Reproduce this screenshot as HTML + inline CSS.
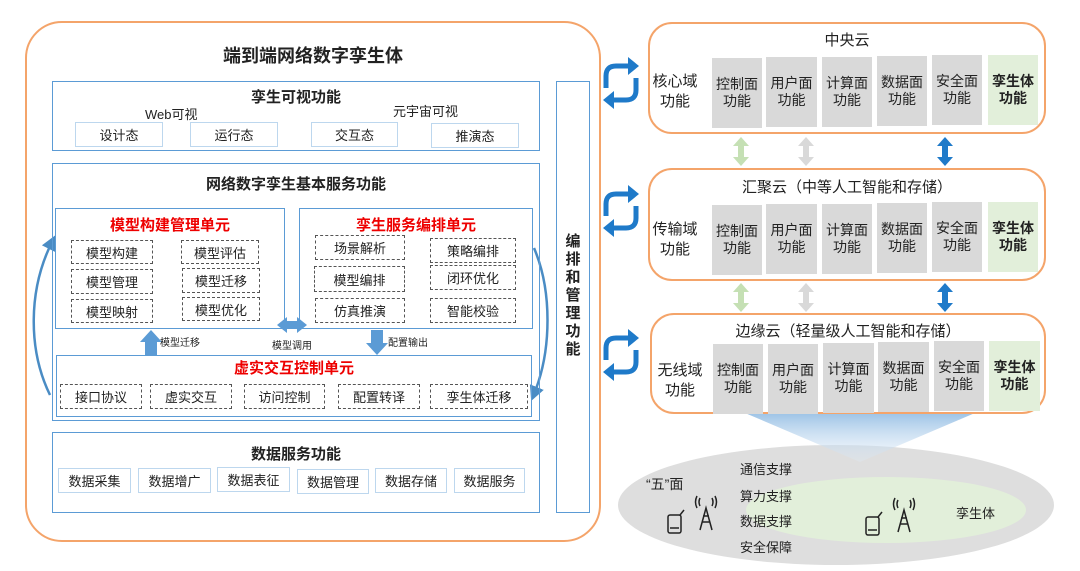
<!DOCTYPE html>
<html><head><meta charset="utf-8"><style>
*{margin:0;padding:0;box-sizing:border-box}
body{width:1080px;height:571px;background:#fff;position:relative;overflow:hidden;font-family:"Liberation Sans","Noto Sans CJK SC",sans-serif;color:#222}
.a{position:absolute}
.bx{position:absolute;border:1.5px solid #5b9bd5}
.lb{position:absolute;border:1.5px solid #bdd7ee;display:flex;align-items:center;justify-content:center;font-size:13px}
.ds{position:absolute;border:1.2px dashed #555;display:flex;align-items:center;justify-content:center;font-size:13px}
.t{position:absolute;text-align:center;white-space:nowrap}
.b{font-weight:bold}
.red{color:#e00;font-weight:bold}
.cl{position:absolute;border:2px solid #f4a46a;border-radius:24px;background:#fff}
.g{position:absolute;background:#d9d9d9;display:flex;align-items:center;justify-content:center;text-align:center;font-size:14px;line-height:17px}
.gg{background:#e2efda;font-weight:bold}
</style></head><body>
<svg class="a" style="left:0;top:0" width="1080" height="571">
<defs><linearGradient id="bl" x1="0" y1="0" x2="0" y2="1"><stop offset="0" stop-color="#9dc3e6"/><stop offset="1" stop-color="#deebf7" stop-opacity="0.3"/></linearGradient>
<marker id="ah" markerWidth="6" markerHeight="6" refX="3" refY="3" orient="auto"><path d="M0,0 L6,3 L0,6 z" fill="#4a8cc4"/></marker></defs>
<rect x="26" y="22" width="574" height="519" rx="36" fill="none" stroke="#f4a46a" stroke-width="2"/>
<ellipse cx="836" cy="505" rx="218" ry="60" fill="#dedede"/>
<ellipse cx="886" cy="510" rx="140" ry="33" fill="#e2efda"/>
<polygon points="745,413 975,413 860,462" fill="url(#bl)"/>
<path d="M50,395 C28,350 28,290 52,242" fill="none" stroke="#4a8cc4" stroke-width="2.5" marker-end="url(#ah)"/>
<path d="M534,248 C552,290 552,350 534,394" fill="none" stroke="#4a8cc4" stroke-width="2.5" marker-end="url(#ah)"/>
<polygon points="145,355 145,342 140,342 151,330 162,342 157,342 157,355" fill="#5b9bd5"/>
<polygon points="371,330 371,343 366,343 377,355 388,343 383,343 383,330" fill="#5b9bd5"/>
<polygon points="277,325 287,317 287,321 297,321 297,317 307,325 297,333 297,329 287,329 287,333" fill="#5b9bd5"/>
<g id="ar">
<polygon points="741,137 749,146 744,146 744,157 749,157 741,166 733,157 738,157 738,146 733,146" fill="#c5e0b4"/>
<polygon points="806,137 814,146 809,146 809,157 814,157 806,166 798,157 803,157 803,146 798,146" fill="#d9d9d9"/>
<polygon points="945,137 953,146 948,146 948,157 953,157 945,166 937,157 942,157 942,146 937,146" fill="#1f7ac9"/>
</g>
<use href="#ar" y="146"/>
<g id="cy" fill="none" stroke="#1f7ac9" stroke-width="5">
<path d="M606,88 L606,76 Q606,66 616,66 L630,66"/><polygon points="628,57 639,66 628,75" fill="#1f7ac9" stroke="none"/>
<path d="M636,78 L636,90 Q636,100 626,100 L612,100"/><polygon points="614,91 603,100 614,109" fill="#1f7ac9" stroke="none"/>
</g>
<use href="#cy" y="128"/><use href="#cy" y="272"/>
<g id="ic" stroke="#222" fill="none" stroke-width="1.5">
<rect x="668" y="515" width="13" height="18" rx="2"/><line x1="670" y1="528" x2="679" y2="528"/><path d="M680,515 L684,510"/>
<path d="M700,530 L706,508 L712,530 M702,522 L710,522 M703,516 L709,516"/>
<path d="M700,506 Q698,502 700,498 M712,506 Q714,502 712,498 M697,508 Q694,502 697,496 M715,508 Q718,502 715,496"/>
</g>
<use href="#ic" x="198" y="2"/>
</svg>

<div class="t b" style="left:26px;width:574px;top:42px;font-size:18px">端到端网络数字孪生体</div>

<div class="bx" style="left:52px;top:81px;width:488px;height:70px"></div>
<div class="t b" style="left:52px;width:488px;top:86px;font-size:15px">孪生可视功能</div>
<div class="t" style="left:145px;top:104px;font-size:13px">Web可视</div>
<div class="t" style="left:393px;top:101px;font-size:13px">元宇宙可视</div>
<div class="lb" style="left:75px;top:122px;width:88px;height:25px">设计态</div>
<div class="lb" style="left:190px;top:122px;width:88px;height:25px">运行态</div>
<div class="lb" style="left:311px;top:122px;width:87px;height:25px">交互态</div>
<div class="lb" style="left:431px;top:123px;width:88px;height:25px">推演态</div>

<div class="bx" style="left:52px;top:163px;width:488px;height:258px"></div>
<div class="t b" style="left:52px;width:488px;top:173px;font-size:15px">网络数字孪生基本服务功能</div>
<div class="bx" style="left:55px;top:208px;width:230px;height:121px"></div>
<div class="t red" style="left:55px;width:230px;top:214px;font-size:15px">模型构建管理单元</div>
<div class="ds" style="left:71px;top:240px;width:82px;height:24px">模型构建</div>
<div class="ds" style="left:181px;top:240px;width:78px;height:24px">模型评估</div>
<div class="ds" style="left:71px;top:269px;width:82px;height:25px">模型管理</div>
<div class="ds" style="left:182px;top:268px;width:78px;height:25px">模型迁移</div>
<div class="ds" style="left:71px;top:299px;width:82px;height:24px">模型映射</div>
<div class="ds" style="left:182px;top:297px;width:78px;height:24px">模型优化</div>

<div class="bx" style="left:299px;top:208px;width:234px;height:121px"></div>
<div class="t red" style="left:299px;width:234px;top:214px;font-size:15px">孪生服务编排单元</div>
<div class="ds" style="left:315px;top:235px;width:90px;height:25px">场景解析</div>
<div class="ds" style="left:430px;top:238px;width:86px;height:25px">策略编排</div>
<div class="ds" style="left:314px;top:266px;width:91px;height:26px">模型编排</div>
<div class="ds" style="left:430px;top:265px;width:86px;height:25px">闭环优化</div>
<div class="ds" style="left:315px;top:298px;width:90px;height:25px">仿真推演</div>
<div class="ds" style="left:430px;top:298px;width:86px;height:25px">智能校验</div>

<div class="t" style="left:160px;top:334px;font-size:10px">模型迁移</div>
<div class="t" style="left:272px;top:337px;font-size:10px">模型调用</div>
<div class="t" style="left:388px;top:334px;font-size:10px">配置输出</div>

<div class="bx" style="left:56px;top:355px;width:476px;height:62px"></div>
<div class="t red" style="left:56px;width:476px;top:357px;font-size:15px">虚实交互控制单元</div>
<div class="ds" style="left:60px;top:384px;width:82px;height:25px">接口协议</div>
<div class="ds" style="left:150px;top:384px;width:82px;height:25px">虚实交互</div>
<div class="ds" style="left:244px;top:384px;width:81px;height:25px">访问控制</div>
<div class="ds" style="left:338px;top:384px;width:82px;height:25px">配置转译</div>
<div class="ds" style="left:430px;top:384px;width:98px;height:25px">孪生体迁移</div>

<div class="bx" style="left:52px;top:432px;width:488px;height:81px"></div>
<div class="t b" style="left:52px;width:488px;top:443px;font-size:15px">数据服务功能</div>
<div class="lb" style="left:58px;top:468px;width:73px;height:25px">数据采集</div>
<div class="lb" style="left:138px;top:468px;width:73px;height:25px">数据增广</div>
<div class="lb" style="left:217px;top:467px;width:73px;height:25px">数据表征</div>
<div class="lb" style="left:297px;top:469px;width:72px;height:25px">数据管理</div>
<div class="lb" style="left:375px;top:468px;width:72px;height:25px">数据存储</div>
<div class="lb" style="left:454px;top:468px;width:71px;height:25px">数据服务</div>

<div class="bx" style="left:556px;top:81px;width:34px;height:432px"></div>
<div class="t b" style="left:556px;width:34px;top:233px;font-size:15px;line-height:18px;white-space:normal">编<br>排<br>和<br>管<br>理<br>功<br>能</div>

<div class="cl" style="left:648px;top:22px;width:398px;height:112px"></div>
<div class="t" style="left:648px;width:398px;top:29px;font-size:15px">中央云</div>
<div class="t" style="left:650px;width:50px;top:72px;font-size:15px;line-height:20px;white-space:normal">核心域功能</div>
<div class="cl" style="left:648px;top:168px;width:398px;height:113px"></div>
<div class="t" style="left:648px;width:398px;top:176px;font-size:15px">汇聚云（中等人工智能和存储）</div>
<div class="t" style="left:650px;width:50px;top:220px;font-size:15px;line-height:20px;white-space:normal">传输域功能</div>
<div class="cl" style="left:650px;top:313px;width:396px;height:101px"></div>
<div class="t" style="left:650px;width:396px;top:320px;font-size:15px">边缘云（轻量级人工智能和存储）</div>
<div class="t" style="left:655px;width:50px;top:361px;font-size:15px;line-height:20px;white-space:normal">无线域功能</div>

<div class="g" style="left:712px;top:58px;width:50px;height:70px">控制面<br>功能</div>
<div class="g" style="left:766px;top:57px;width:51px;height:70px">用户面<br>功能</div>
<div class="g" style="left:822px;top:57px;width:50px;height:70px">计算面<br>功能</div>
<div class="g" style="left:877px;top:56px;width:50px;height:70px">数据面<br>功能</div>
<div class="g" style="left:932px;top:55px;width:50px;height:70px">安全面<br>功能</div>
<div class="g gg" style="left:988px;top:55px;width:50px;height:70px">孪生体<br>功能</div>

<div class="g" style="left:712px;top:205px;width:50px;height:70px">控制面<br>功能</div>
<div class="g" style="left:766px;top:204px;width:51px;height:70px">用户面<br>功能</div>
<div class="g" style="left:822px;top:204px;width:50px;height:70px">计算面<br>功能</div>
<div class="g" style="left:877px;top:203px;width:50px;height:70px">数据面<br>功能</div>
<div class="g" style="left:932px;top:202px;width:50px;height:70px">安全面<br>功能</div>
<div class="g gg" style="left:988px;top:202px;width:50px;height:70px">孪生体<br>功能</div>

<div class="g" style="left:713px;top:344px;width:50px;height:70px">控制面<br>功能</div>
<div class="g" style="left:768px;top:344px;width:50px;height:70px">用户面<br>功能</div>
<div class="g" style="left:823px;top:343px;width:51px;height:70px">计算面<br>功能</div>
<div class="g" style="left:878px;top:342px;width:51px;height:70px">数据面<br>功能</div>
<div class="g" style="left:934px;top:341px;width:50px;height:70px">安全面<br>功能</div>
<div class="g gg" style="left:989px;top:341px;width:51px;height:70px">孪生体<br>功能</div>

<div class="t" style="left:646px;top:474px;font-size:14px">“五”面</div>
<div class="t" style="left:740px;top:459px;font-size:13px">通信支撑</div>
<div class="t" style="left:740px;top:486px;font-size:13px">算力支撑</div>
<div class="t" style="left:740px;top:511px;font-size:13px">数据支撑</div>
<div class="t" style="left:740px;top:537px;font-size:13px">安全保障</div>
<div class="t" style="left:956px;top:503px;font-size:13px">孪生体</div>
</body></html>
